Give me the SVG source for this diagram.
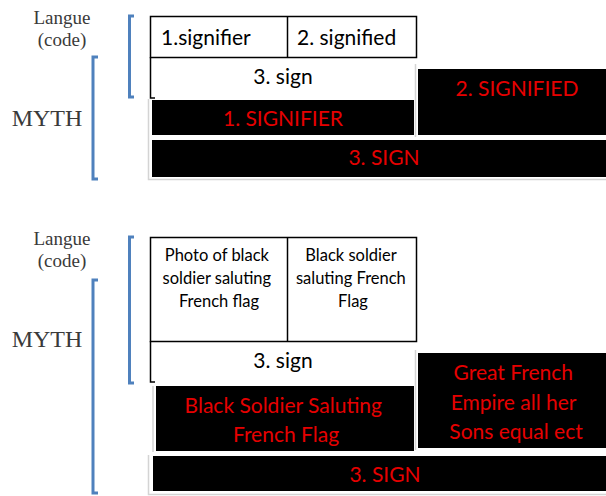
<svg xmlns="http://www.w3.org/2000/svg" width="606" height="496" viewBox="0 0 606 496">
<style>
.serif{font-family:"Liberation Serif","DejaVu Serif",serif;fill:#3a3a3a}
.lbl{font-family:Lato,"Open Sans",sans-serif;fill:#000}
.red{font-family:Lato,"Open Sans",sans-serif;fill:#e60000}
.cell{fill:#fff;stroke:#000;stroke-width:1.5}
.line{fill:none;stroke:#000;stroke-width:1.5}
.blk{fill:#000}
.shadow{fill:none;stroke:#d4d4d4;stroke-width:1.5}
.br{fill:none;stroke:#4f81bd;stroke-width:3}
</style>
<rect width="606" height="496" fill="#fff"/>

<g id="connectors">
  <path class="br" d="M134,16 H129.5 V97 H134"/>
  <path class="br" d="M98,57 H93 V179 H98"/>
  <path class="br" d="M134,237 H129.5 V383 H134"/>
  <path class="br" d="M98,280 H93 V493 H98"/>
</g>

<g id="labels-top">
  <text class="serif" x="62" y="24" font-size="19" text-anchor="middle">Langue</text>
  <text class="serif" x="62" y="46" font-size="19" text-anchor="middle">(code)</text>
  <text class="serif" x="47" y="126" font-size="24" text-anchor="middle">MYTH</text>
</g>

<g id="diagram-top">
  <g id="t-table">
    <rect class="cell" x="150.5" y="16.5" width="266" height="41"/>
    <line class="line" x1="287.5" y1="16.5" x2="287.5" y2="57.5"/>
    <path class="line" d="M150.5,57 V98 H155"/>
    <text class="lbl" x="161" y="45" font-size="21">1.signifier</text>
    <text class="lbl" x="297" y="45" font-size="21">2. signified</text>
    <text class="lbl" x="283" y="84" font-size="21" text-anchor="middle">3. sign</text>
  </g>
  <path class="shadow" d="M148.5,99 V179.5 H606 M415.5,64 V137"/>
  <g id="t-signifier">
    <rect class="blk" x="152" y="100" width="262" height="35"/>
    <text class="red" x="283" y="126" font-size="21" text-anchor="middle">1. SIGNIFIER</text>
  </g>
  <g id="t-signified">
    <rect class="blk" x="418" y="69" width="188" height="66"/>
    <text class="red" x="517" y="96" font-size="21" text-anchor="middle">2. SIGNIFIED</text>
  </g>
  <g id="t-sign">
    <rect class="blk" x="152" y="140" width="454" height="37"/>
    <text class="red" x="384" y="165" font-size="21" text-anchor="middle">3. SIGN</text>
  </g>
</g>

<g id="labels-bottom">
  <text class="serif" x="62" y="245" font-size="19" text-anchor="middle">Langue</text>
  <text class="serif" x="62" y="267" font-size="19" text-anchor="middle">(code)</text>
  <text class="serif" x="47" y="347" font-size="24" text-anchor="middle">MYTH</text>
</g>

<g id="diagram-bottom">
  <g id="b-table">
    <rect class="cell" x="150.5" y="237.5" width="266" height="104"/>
    <line class="line" x1="287.5" y1="237.5" x2="287.5" y2="341.5"/>
    <path class="line" d="M150.5,341 V382 H155"/>
    <text class="lbl" font-size="16.5" text-anchor="middle">
      <tspan x="219" y="261">Photo of black</tspan>
      <tspan x="219" y="284">soldier saluting</tspan>
      <tspan x="219" y="307">French flag</tspan>
    </text>
    <text class="lbl" font-size="16.5" text-anchor="middle">
      <tspan x="353" y="261">Black soldier</tspan>
      <tspan x="353" y="284">saluting French</tspan>
      <tspan x="353" y="307">Flag</tspan>
    </text>
    <text class="lbl" x="283" y="368" font-size="21" text-anchor="middle">3. sign</text>
  </g>
  <path class="shadow" d="M153,386 V452 M148.5,455 V494.5 H606 M415.5,350 V450"/>
  <g id="b-signifier">
    <rect class="blk" x="156" y="386" width="258" height="65"/>
    <text class="red" font-size="21" text-anchor="middle">
      <tspan x="286" y="413">Black Soldier Saluting</tspan>
      <tspan x="286" y="442">French Flag</tspan>
    </text>
  </g>
  <g id="b-signified">
    <rect class="blk" x="418" y="353" width="188" height="95"/>
    <text class="red" font-size="21" text-anchor="middle">
      <tspan x="516" y="380">Great French</tspan>
      <tspan x="516" y="410">Empire all her</tspan>
      <tspan x="516" y="439">Sons equal ect</tspan>
    </text>
  </g>
  <g id="b-sign">
    <rect class="blk" x="153" y="456" width="453" height="35"/>
    <text class="red" x="385" y="482" font-size="21" text-anchor="middle">3. SIGN</text>
  </g>
</g>
</svg>
